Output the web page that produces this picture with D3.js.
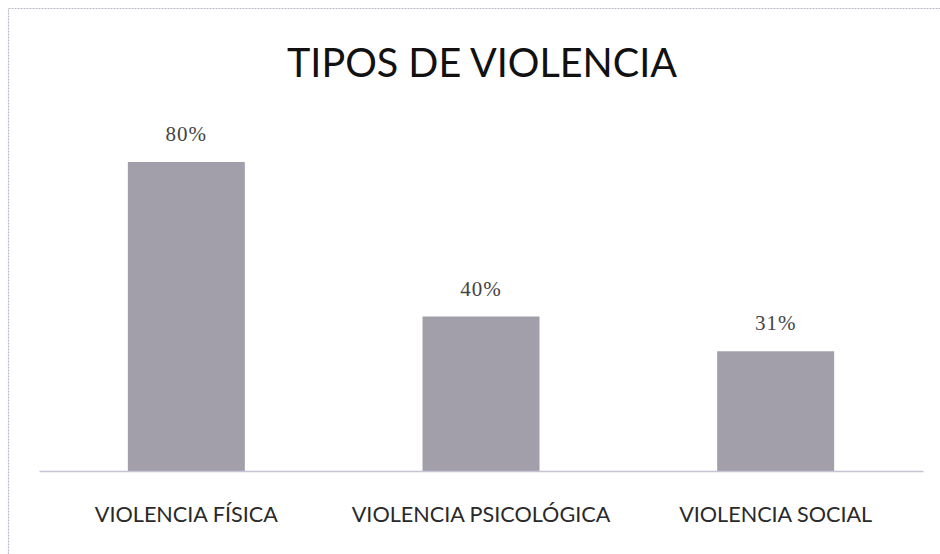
<!DOCTYPE html>
<html><head><meta charset="utf-8">
<script src="https://cdn.jsdelivr.net/npm/d3@7"></script>
<style>html,body{margin:0;padding:0;background:#fff;}</style>
</head><body>
<svg id="c" width="940" height="554"></svg>
<script>
const categories = ["VIOLENCIA FÍSICA", "VIOLENCIA PSICOLÓGICA", "VIOLENCIA SOCIAL"];
const values = [80, 40, 31];
const valueLabels = ["80%", "40%", "31%"];
const title = "TIPOS DE VIOLENCIA";

const svg = d3.select("#c");
// outer frame
svg.append("rect").attr("x", 8.5).attr("y", 8.5).attr("width", 960).attr("height", 600)
  .attr("fill", "none").attr("stroke", "#b8b8c4").attr("stroke-width", 1.2).attr("stroke-dasharray", "2,1");

const x = d3.scaleBand().domain(categories).range([39, 923]).paddingInner(0.603).paddingOuter(0.3015);
const y = d3.scaleLinear().domain([0, 100]).range([471, 84.75]);

svg.append("text").attr("x", 482).attr("y", 77).attr("text-anchor", "middle")
  .attr("font-family", "Lato, 'Open Sans', sans-serif").attr("font-size", 40)
  .attr("textLength", 390).attr("lengthAdjust", "spacingAndGlyphs")
  .attr("fill", "#111").text(title);

svg.selectAll("rect.bar").data(values).join("rect").attr("class", "bar")
  .attr("x", (d, i) => x(categories[i])).attr("width", x.bandwidth())
  .attr("y", d => y(d)).attr("height", d => y(0) - y(d))
  .attr("fill", "#a29fab");

svg.selectAll("text.val").data(values).join("text").attr("class", "val")
  .attr("x", (d, i) => x(categories[i]) + x.bandwidth() / 2)
  .attr("y", d => y(d) - 21).attr("text-anchor", "middle")
  .attr("font-family", "'Liberation Serif', serif").attr("font-size", 21)
  .attr("letter-spacing", 1)
  .attr("fill", "#444").text((d, i) => valueLabels[i]);

const axis = d3.axisBottom(x).tickSize(0).tickPadding(0);
const g = svg.append("g").attr("transform", "translate(0,471)").call(axis);
g.select(".domain").attr("stroke", "#c4c4d4").attr("stroke-width", 1.5);
g.selectAll(".tick text").attr("y", 51).attr("dy", 0)
  .attr("font-family", "Lato, 'Open Sans', sans-serif").attr("font-size", 21.6)
  .attr("fill", "#2a2a2a");
</script>
</body></html>
